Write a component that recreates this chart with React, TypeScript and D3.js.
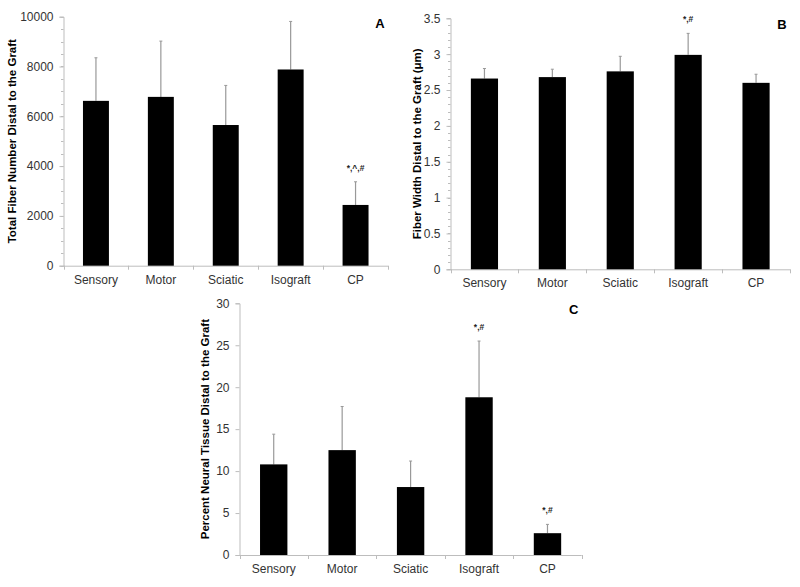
import { useEffect, useRef } from "react";
import * as d3 from "d3";

const categories = ["Sensory", "Motor", "Sciatic", "Isograft", "CP"];

const fiberNumber = [6620, 6780, 5650, 7880, 2440];
const fiberNumberErr = [1730, 2240, 1590, 1930, 930];
const fiberNumberMarks = ["", "", "", "", "*,^,#"];

const fiberWidth = [2.66, 2.68, 2.76, 2.99, 2.6];
const fiberWidthErr = [0.14, 0.11, 0.21, 0.3, 0.12];
const fiberWidthMarks = ["", "", "", "*,#", ""];

const neuralTissue = [10.8, 12.5, 8.1, 18.8, 2.6];
const neuralTissueErr = [3.6, 5.2, 3.1, 6.7, 1.05];
const neuralTissueMarks = ["", "", "", "*,#", "*,#"];

const panels = [
  {
    letter: "A",
    title: "Total Fiber Number Distal to the Graft",
    values: fiberNumber,
    errors: fiberNumberErr,
    marks: fiberNumberMarks,
    max: 10000,
    step: 2000,
    minor: 500,
    box: { left: 63.5, top: 16.7, right: 388, bottom: 265.7 },
    titleX: 12,
  },
  {
    letter: "B",
    title: "Fiber Width Distal to the Graft (μm)",
    values: fiberWidth,
    errors: fiberWidthErr,
    marks: fiberWidthMarks,
    max: 3.5,
    step: 0.5,
    minor: 0.1,
    box: { left: 450.5, top: 18.3, right: 790, bottom: 269.3 },
    titleX: 417,
  },
  {
    letter: "C",
    title: "Percent Neural Tissue Distal to the Graft",
    values: neuralTissue,
    errors: neuralTissueErr,
    marks: neuralTissueMarks,
    max: 30,
    step: 5,
    minor: 0,
    box: { left: 239.5, top: 303.3, right: 581.7, bottom: 555 },
    titleX: 205,
  },
];

const axisColor = "#bdbdbd";
const labelColor = "#333";
const font = "Liberation Sans, Arial, sans-serif";

export default function App() {
  const svgRef = useRef<SVGSVGElement>(null);

  useEffect(() => {
    if (!svgRef.current) return;
    const svg = d3.select(svgRef.current);
    svg.selectAll("*").remove();

    panels.forEach((p) => {
      const { left, top, right, bottom } = p.box;
      const x = d3.scaleBand().domain(categories).range([left, right]).paddingInner(0.6).paddingOuter(0.3);
      const y = d3.scaleLinear().domain([0, p.max]).range([bottom, top]);
      const g = svg.append("g");

      // minor ticks
      if (p.minor > 0) {
        const minors = d3.range(0, p.max + p.minor / 2, p.minor);
        g.selectAll(".minor")
          .data(minors)
          .enter()
          .append("line")
          .attr("x1", left)
          .attr("x2", left - 2.5)
          .attr("y1", (d) => Math.round(y(d)) + 0.5)
          .attr("y2", (d) => Math.round(y(d)) + 0.5)
          .attr("stroke", axisColor);
      }

      const yTicks = d3.range(0, p.max + p.step / 2, p.step);
      const yAxis = g
        .append("g")
        .attr("transform", "translate(" + left + ",0)")
        .call(
          d3
            .axisLeft(y)
            .tickValues(yTicks)
            .tickSize(4)
            .tickPadding(6)
            .tickFormat((d) => String(+(+d).toFixed(2)))
        );
      yAxis.select(".domain").attr("stroke", axisColor);
      yAxis.selectAll(".tick line").attr("stroke", axisColor);
      yAxis
        .selectAll(".tick text")
        .attr("fill", labelColor)
        .style("font-family", font)
        .style("font-size", "12px");

      // x axis line + boundary ticks
      g.append("line")
        .attr("x1", left)
        .attr("x2", right)
        .attr("y1", bottom + 0.5)
        .attr("y2", bottom + 0.5)
        .attr("stroke", axisColor);
      const bounds = d3.range(0, categories.length + 1).map((i) => left + i * ((right - left) / categories.length));
      g.selectAll(".xt")
        .data(bounds)
        .enter()
        .append("line")
        .attr("x1", (d) => Math.round(d) + 0.5)
        .attr("x2", (d) => Math.round(d) + 0.5)
        .attr("y1", bottom)
        .attr("y2", bottom + 4)
        .attr("stroke", axisColor);

      g.selectAll(".xl")
        .data(categories)
        .enter()
        .append("text")
        .attr("x", (d) => (x(d) as number) + x.bandwidth() / 2)
        .attr("y", bottom + 18)
        .attr("text-anchor", "middle")
        .attr("fill", labelColor)
        .style("font-family", font)
        .style("font-size", "12px")
        .text((d) => d);

      // error bars
      g.selectAll(".err")
        .data(categories)
        .enter()
        .append("line")
        .attr("x1", (d) => (x(d) as number) + x.bandwidth() / 2)
        .attr("x2", (d) => (x(d) as number) + x.bandwidth() / 2)
        .attr("y1", (d, i) => y(p.values[i]))
        .attr("y2", (d, i) => y(p.values[i] + p.errors[i]))
        .attr("stroke", "#999")
        .attr("stroke-width", 1.2);
      g.selectAll(".cap")
        .data(categories)
        .enter()
        .append("line")
        .attr("x1", (d) => (x(d) as number) + x.bandwidth() / 2 - 1.5)
        .attr("x2", (d) => (x(d) as number) + x.bandwidth() / 2 + 1.5)
        .attr("y1", (d, i) => y(p.values[i] + p.errors[i]))
        .attr("y2", (d, i) => y(p.values[i] + p.errors[i]))
        .attr("stroke", "#999");

      // bars
      g.selectAll(".bar")
        .data(categories)
        .enter()
        .append("rect")
        .attr("x", (d) => x(d) as number)
        .attr("y", (d, i) => y(p.values[i]))
        .attr("width", x.bandwidth())
        .attr("height", (d, i) => bottom - y(p.values[i]))
        .attr("fill", "#000");

      // significance marks
      g.selectAll(".mark")
        .data(categories)
        .enter()
        .append("text")
        .attr("x", (d) => (x(d) as number) + x.bandwidth() / 2)
        .attr("y", (d, i) => y(p.values[i] + p.errors[i]) - 11)
        .attr("text-anchor", "middle")
        .attr("fill", "#222")
        .style("font-family", font)
        .style("font-size", "8.5px")
        .style("font-weight", "bold")
        .text((d, i) => p.marks[i]);

      // panel letter
      g.append("text")
        .attr("x", right - 8)
        .attr("y", top + 11)
        .attr("text-anchor", "middle")
        .attr("fill", "#000")
        .style("font-family", font)
        .style("font-size", "13px")
        .style("font-weight", "bold")
        .text(p.letter);

      // y title
      g.append("text")
        .attr("transform", "translate(" + p.titleX + "," + (top + bottom) / 2 + ") rotate(-90)")
        .attr("text-anchor", "middle")
        .attr("dy", "0.35em")
        .attr("fill", "#000")
        .style("font-family", font)
        .style("font-size", "11.5px")
        .style("font-weight", "bold")
        .text(p.title);
    });
  }, []);

  return (
    <svg
      ref={svgRef}
      width="800"
      height="587"
      style={{ position: "absolute", left: 0, top: 0, background: "#fff" }}
    />
  );
}
